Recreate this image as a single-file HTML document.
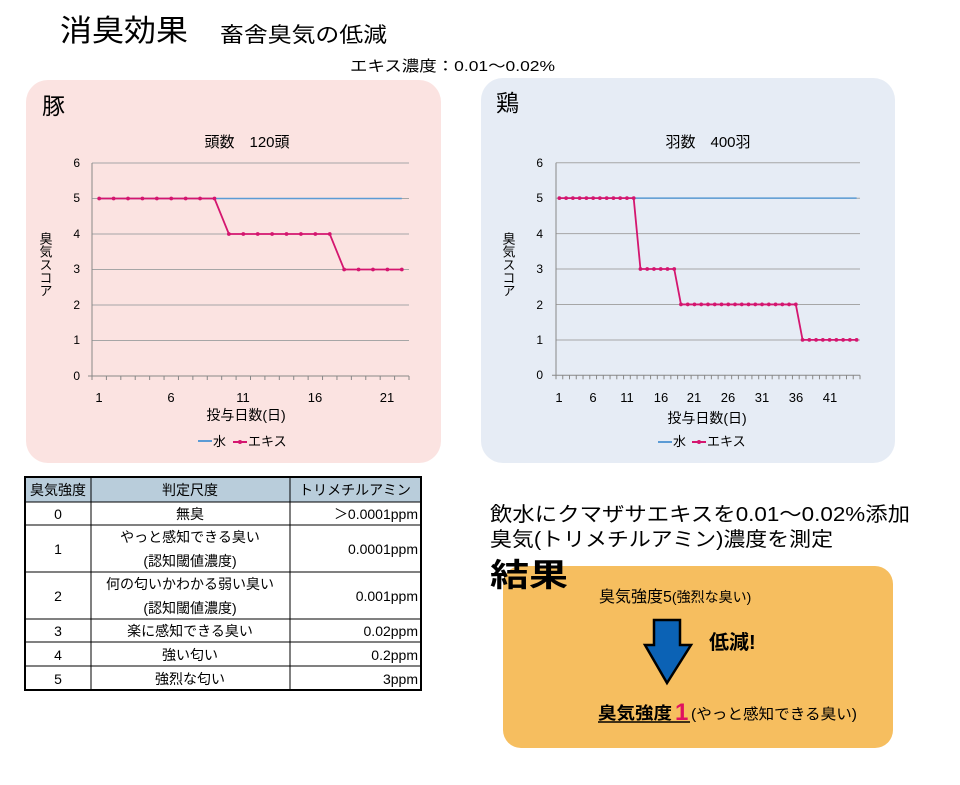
<!DOCTYPE html>
<html><head><meta charset="utf-8"><style>
body{margin:0;background:#fff;}
svg text{font-family:"Liberation Sans","Noto Sans CJK JP",sans-serif;}
</style></head><body>
<svg width="960" height="780" viewBox="0 0 960 780" xmlns="http://www.w3.org/2000/svg">
<text x="60" y="41" font-size="30" textLength="128" lengthAdjust="spacingAndGlyphs">消臭効果</text>
<text x="220" y="42" font-size="21" textLength="167" lengthAdjust="spacingAndGlyphs">畜舎臭気の低減</text>
<text x="350" y="71" font-size="15" textLength="205" lengthAdjust="spacingAndGlyphs">エキス濃度：0.01～0.02%</text>

<!-- pig panel -->
<rect x="26" y="80" width="415" height="383" rx="22" fill="#fbe3e1"/>
<text x="42" y="114" font-size="23">豚</text>
<text x="247" y="147" font-size="15" text-anchor="middle">頭数　120頭</text>
<g stroke="#a6a6a6" stroke-width="1">
<line x1="92" y1="163" x2="409" y2="163"/><line x1="92" y1="198.5" x2="409" y2="198.5"/>
<line x1="92" y1="234" x2="409" y2="234"/><line x1="92" y1="269.5" x2="409" y2="269.5"/>
<line x1="92" y1="305" x2="409" y2="305"/><line x1="92" y1="340.5" x2="409" y2="340.5"/>
</g>
<g stroke="#888" stroke-width="1">
<line x1="92" y1="163" x2="92" y2="376"/><line x1="88" y1="376" x2="409" y2="376"/>
</g>
<g id="pt"></g>
<g font-size="12" text-anchor="end">
<text x="80" y="167">6</text><text x="80" y="202">5</text><text x="80" y="238">4</text><text x="80" y="273">3</text><text x="80" y="309">2</text><text x="80" y="344">1</text><text x="80" y="380">0</text>
</g>
<g font-size="13" text-anchor="middle">
<text x="99" y="402">1</text><text x="171" y="402">6</text><text x="243" y="402">11</text><text x="315" y="402">16</text><text x="387" y="402">21</text>
</g>
<text x="246" y="420" font-size="14" text-anchor="middle">投与日数(日)</text>
<text font-size="13" x="45" y="232" style="writing-mode:vertical-rl;" >臭気スコア</text>
<line x1="198" y1="441" x2="212" y2="441" stroke="#5b9bd5" stroke-width="2"/><text x="213" y="446" font-size="13">水</text>
<line x1="233" y1="442" x2="247" y2="442" stroke="#d4166f" stroke-width="2"/><circle cx="240" cy="442" r="2" fill="#d4166f"/><text x="248" y="446" font-size="13">エキス</text>

<!-- chicken panel -->
<rect x="481" y="78" width="414" height="385" rx="22" fill="#e6ecf5"/>
<text x="496" y="111" font-size="23">鶏</text>
<text x="708" y="147" font-size="15" text-anchor="middle">羽数　400羽</text>
<g stroke="#a6a6a6" stroke-width="1">
<line x1="556" y1="162.7" x2="860" y2="162.7"/><line x1="556" y1="198.2" x2="860" y2="198.2"/>
<line x1="556" y1="233.6" x2="860" y2="233.6"/><line x1="556" y1="269" x2="860" y2="269"/>
<line x1="556" y1="304.5" x2="860" y2="304.5"/><line x1="556" y1="340" x2="860" y2="340"/>
</g>
<g stroke="#888" stroke-width="1">
<line x1="556" y1="162.7" x2="556" y2="375.3"/><line x1="552" y1="375.3" x2="860" y2="375.3"/>
</g>
<g id="ct"></g>
<g font-size="12" text-anchor="end">
<text x="543" y="167">6</text><text x="543" y="202">5</text><text x="543" y="238">4</text><text x="543" y="273">3</text><text x="543" y="309">2</text><text x="543" y="344">1</text><text x="543" y="379">0</text>
</g>
<g font-size="13" text-anchor="middle">
<text x="559" y="402">1</text><text x="593" y="402">6</text><text x="627" y="402">11</text><text x="661" y="402">16</text><text x="694" y="402">21</text><text x="728" y="402">26</text><text x="762" y="402">31</text><text x="796" y="402">36</text><text x="830" y="402">41</text>
</g>
<text x="707" y="423" font-size="14" text-anchor="middle">投与日数(日)</text>
<text font-size="13" x="508" y="232" style="writing-mode:vertical-rl;">臭気スコア</text>
<line x1="658" y1="442" x2="672" y2="442" stroke="#5b9bd5" stroke-width="2"/><text x="673" y="446" font-size="13">水</text>
<line x1="692" y1="442" x2="706" y2="442" stroke="#d4166f" stroke-width="2"/><circle cx="699" cy="442" r="2" fill="#d4166f"/><text x="707" y="446" font-size="13">エキス</text>

<!-- table -->
<g font-size="14">
<rect x="25" y="477" width="396" height="25" fill="#b9cddb"/>
<rect x="25" y="477" width="396" height="213" fill="none" stroke="#000" stroke-width="2"/>
<g stroke="#000" stroke-width="1">
<line x1="91" y1="477" x2="91" y2="690"/><line x1="290" y1="477" x2="290" y2="690"/>
<line x1="25" y1="502" x2="421" y2="502"/><line x1="25" y1="525" x2="421" y2="525"/>
<line x1="25" y1="572" x2="421" y2="572"/><line x1="25" y1="619" x2="421" y2="619"/>
<line x1="25" y1="642" x2="421" y2="642"/><line x1="25" y1="666" x2="421" y2="666"/>
</g>
<g text-anchor="middle">
<text x="58" y="495">臭気強度</text><text x="190" y="495">判定尺度</text><text x="355" y="495">トリメチルアミン</text>
<text x="58" y="519">0</text><text x="190" y="519">無臭</text>
<text x="58" y="554">1</text><text x="190" y="542">やっと感知できる臭い</text><text x="190" y="566">(認知閾値濃度)</text>
<text x="58" y="601">2</text><text x="190" y="589">何の匂いかわかる弱い臭い</text><text x="190" y="613">(認知閾値濃度)</text>
<text x="58" y="636">3</text><text x="190" y="636">楽に感知できる臭い</text>
<text x="58" y="660">4</text><text x="190" y="660">強い匂い</text>
<text x="58" y="684">5</text><text x="190" y="684">強烈な匂い</text>
</g>
<g text-anchor="end">
<text x="418" y="519">＞0.0001ppm</text><text x="418" y="554">0.0001ppm</text><text x="418" y="601">0.001ppm</text>
<text x="418" y="636">0.02ppm</text><text x="418" y="660">0.2ppm</text><text x="418" y="684">3ppm</text>
</g>
</g>

<!-- result -->
<text x="490" y="521" font-size="20" textLength="420" lengthAdjust="spacingAndGlyphs">飲水にクマザサエキスを0.01～0.02%添加</text>
<text x="490" y="546" font-size="20" textLength="343" lengthAdjust="spacingAndGlyphs">臭気(トリメチルアミン)濃度を測定</text>
<rect x="503" y="566" width="390" height="182" rx="18" fill="#f6be5f"/>
<text x="490" y="586" font-size="32" font-weight="bold" textLength="78" lengthAdjust="spacingAndGlyphs">結果</text>
<text x="599" y="602" font-size="16">臭気強度5<tspan font-size="14">(強烈な臭い)</tspan></text>
<polygon points="654,620 680,620 680,645 691,645 667,683 645,645 654,645" fill="#0b62b5" stroke="#000" stroke-width="2.5"/>
<text x="709" y="649" font-size="20" font-weight="bold">低減!</text>
<text x="598" y="719" font-size="17" font-weight="bold" textLength="74" lengthAdjust="spacingAndGlyphs">臭気強度</text>
<text x="675" y="720" font-size="24" font-weight="bold" fill="#e0115f">1</text>
<text x="691" y="719" font-size="15" textLength="166" lengthAdjust="spacingAndGlyphs">(やっと感知できる臭い)</text>
<line x1="598" y1="722" x2="690" y2="722" stroke="#000" stroke-width="1.5"/>
</svg>
<script>
(function(){
var NS="http://www.w3.org/2000/svg";
function mk(tag,a,p){var e=document.createElementNS(NS,tag);for(var k in a)e.setAttribute(k,a[k]);p.appendChild(e);return e;}
function chart(id,x0,x1,ytop,ybot,n,data){
 var g=document.getElementById(id),w=(x1-x0)/n,u=(ybot-ytop)/6;
 for(var i=0;i<=n;i++)mk("line",{x1:x0+i*w,y1:ybot,x2:x0+i*w,y2:ybot+4,stroke:"#888"},g);
 var px=function(i){return x0+(i+0.5)*w;},py=function(v){return ybot-v*u;};
 mk("line",{x1:px(0),y1:py(5),x2:px(n-1),y2:py(5),stroke:"#5b9bd5","stroke-width":1.5},g);
 var pts=data.map(function(v,i){return px(i)+","+py(v);}).join(" ");
 mk("polyline",{points:pts,fill:"none",stroke:"#d4166f","stroke-width":1.8},g);
 data.forEach(function(v,i){mk("circle",{cx:px(i),cy:py(v),r:1.9,fill:"#d4166f"},g);});
}
var p=[];for(var i=1;i<=22;i++)p.push(i<=9?5:i<=17?4:3);
chart("pt",92,409,163,376,22,p);
var c=[];for(var i=1;i<=45;i++)c.push(i<=12?5:i<=18?3:i<=36?2:1);
chart("ct",556,860,162.7,375.3,45,c);
})();
</script>
</body></html>
